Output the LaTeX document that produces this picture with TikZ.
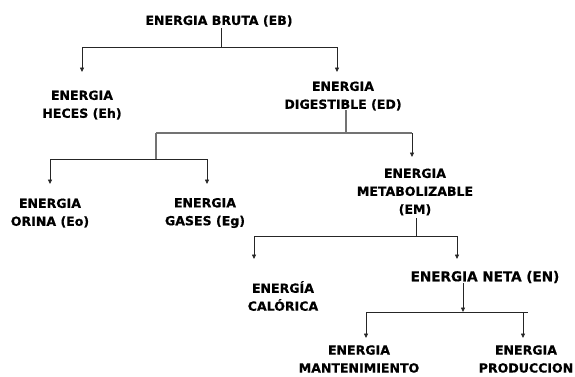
\documentclass[tikz,border=0pt]{standalone}
\usepackage{fontspec}
\setmainfont{DejaVu Sans}[BoldFeatures={FakeBold=0.6}]
\usetikzlibrary{arrows.meta}
\begin{document}
\begin{tikzpicture}[x=1bp,y=-1bp,
  lbl/.style={font=\bfseries\fontsize{12.6}{18}\selectfont, align=center, inner sep=0pt},
  biglbl/.style={lbl, font=\bfseries\fontsize{13.6}{18}\selectfont},
  wire/.style={draw=black!85, line width=0.8bp},
  gwire/.style={draw=black!55, line width=1.3bp},
  arr/.style={wire, -{Triangle[length=4.5bp,width=4bp]}},
]
\useasboundingbox (0,0) rectangle (575,376);

% energy labels
\node[lbl] (eb)    at (219,21)  {ENERGIA BRUTA (EB)};
\node[lbl] (heces) at (82,105)  {ENERGIA\\HECES (Eh)};
\node[lbl] (dig)   at (343,96)  {ENERGIA\\DIGESTIBLE (ED)};
\node[lbl] (orina) at (50,213)  {ENERGIA\\ORINA (Eo)};
\node[lbl] (gases) at (205,213) {ENERGIA\\GASES (Eg)};
\node[lbl] (meta)  at (415,192) {ENERGIA\\METABOLIZABLE\\(EM)};
\node[lbl] (calor) at (283,296) {ENERGÍA\\CALÓRICA};
\node[biglbl] (neta) at (485,277) {ENERGIA NETA (EN)};
\node[lbl] (mant)  at (359,359) {ENERGIA\\MANTENIMIENTO};
\node[lbl] (prod)  at (526,359) {ENERGIA\\PRODUCCION};

% junction points and arrow ends
\coordinate (s1) at (221,28);  \coordinate (j1) at (221,47);
\coordinate (l1) at (82,47);   \coordinate (r1) at (337,47);
\coordinate (tHe) at (82,72);  \coordinate (tDi) at (337,72);

\coordinate (s2) at (346,110); \coordinate (j2) at (346,133);
\coordinate (l2) at (156,133); \coordinate (r2) at (412,133);
\coordinate (tMe) at (412,157);
\coordinate (j3) at (156,159);
\coordinate (l3) at (50,159);  \coordinate (r3) at (207,159);
\coordinate (tOr) at (50,184); \coordinate (tGa) at (207,184);

\coordinate (s4) at (416,218); \coordinate (j4) at (416,236);
\coordinate (l4) at (254,236); \coordinate (r4) at (457,236);
\coordinate (tCa) at (254,259); \coordinate (tNe) at (457,259);

\coordinate (s5) at (463,283); \coordinate (j5) at (463,312);
\coordinate (l5) at (366,312); \coordinate (r5) at (528,312);
\coordinate (m5) at (523,312);
\coordinate (tMa) at (366,338); \coordinate (tPr) at (523,338);

% EB branch
\draw[wire] (s1) -- (j1);
\draw[wire] (l1) -- (r1);
\draw[arr] (l1) -- (tHe);
\draw[arr] (r1) -- (tDi);

% ED branch
\draw[gwire] (s2) -- (j2);
\draw[gwire] (l2) -- (r2);
\draw[arr] (r2) -- (tMe);
\draw[gwire] (l2) -- (j3);
\draw[wire] (l3) -- (r3);
\draw[arr] (l3) -- (tOr);
\draw[arr] (r3) -- (tGa);

% EM branch
\draw[wire] (s4) -- (j4);
\draw[wire] (l4) -- (r4);
\draw[arr] (l4) -- (tCa);
\draw[arr] (r4) -- (tNe);

% EN branch
\draw[arr] (s5) -- (j5);
\draw[wire] (l5) -- (r5);
\draw[arr] (l5) -- (tMa);
\draw[arr] (m5) -- (tPr);
\end{tikzpicture}
\end{document}
